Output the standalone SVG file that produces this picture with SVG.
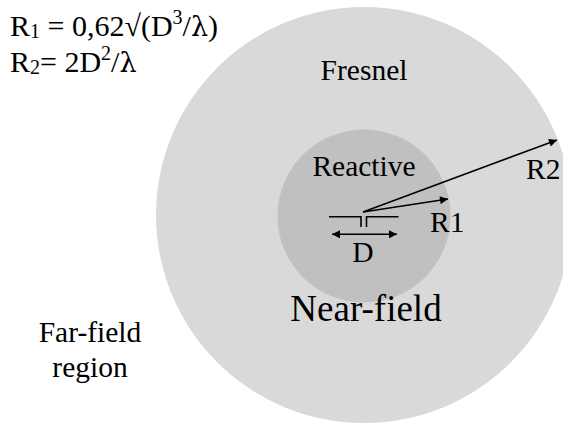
<svg xmlns="http://www.w3.org/2000/svg" width="563" height="423" viewBox="0 0 563 423">
<style>
text{font-family:"Liberation Serif","Times New Roman",serif;fill:#000}
.lbl{font-size:29.5px}
.ln{stroke:#000;stroke-width:1.6;fill:none}
.gr{font-family:"DejaVu Serif","Liberation Serif",serif}
</style>
<defs>
<marker id="ah" viewBox="0 0 10 10" refX="10" refY="5" markerWidth="10" markerHeight="8" markerUnits="userSpaceOnUse" orient="auto-start-reverse">
<path d="M0,0 L10,5 L0,10 z" fill="#000"/>
</marker>
</defs>
<rect width="563" height="423" fill="#fff"/>
<g id="fresnel">
<circle cx="364" cy="215" r="208" fill="#d9d9d9"/>
<text class="lbl" x="364" y="80" text-anchor="middle">Fresnel</text>
</g>
<g id="reactive">
<circle cx="364" cy="216" r="86.5" fill="#c0c0c0"/>
<text class="lbl" x="364" y="176" text-anchor="middle">Reactive</text>
</g>
<g id="nearfield">
<text x="366" y="321" text-anchor="middle" font-size="37">Near-field</text>
</g>
<g id="farfield">
<text class="lbl" x="90" y="342" text-anchor="middle">Far-field</text>
<text class="lbl" x="90" y="377" text-anchor="middle">region</text>
</g>
<g id="antenna">
<path class="ln" d="M329,216.7 H361 V227 M366.5,227 V216.7 H398.5"/>
</g>
<g id="connectors">
<line class="ln" x1="332" y1="234.3" x2="397" y2="234.3" marker-start="url(#ah)" marker-end="url(#ah)"/>
<line class="ln" x1="363" y1="212" x2="448" y2="199" marker-end="url(#ah)"/>
<line class="ln" x1="363" y1="212" x2="557" y2="140" marker-end="url(#ah)"/>
<text class="lbl" x="363" y="262" text-anchor="middle">D</text>
<text class="lbl" x="430" y="232">R1</text>
<text class="lbl" x="526" y="179">R2</text>
</g>
<g id="equations">
<text x="10" y="36" font-size="30">R<tspan font-size="20" dy="2">1</tspan><tspan dy="-2"> = 0,62√(D</tspan><tspan font-size="20" dy="-12">3</tspan><tspan dy="12">/</tspan><tspan class="gr" font-size="27">λ</tspan>)</text>
<text x="10" y="72" font-size="30">R<tspan font-size="20" dy="2">2</tspan><tspan dy="-2">= 2D</tspan><tspan font-size="20" dy="-12">2</tspan><tspan dy="12">/</tspan><tspan class="gr" font-size="27">λ</tspan></text>
</g>
</svg>
